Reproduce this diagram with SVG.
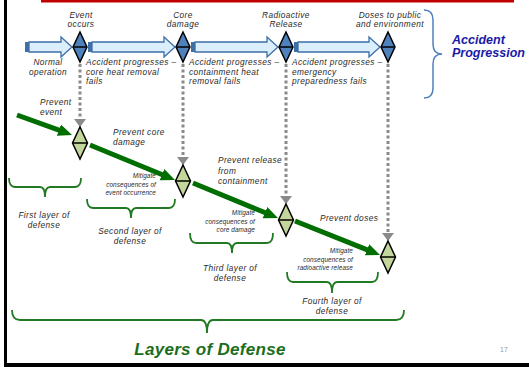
<svg xmlns="http://www.w3.org/2000/svg" width="529" height="367" viewBox="0 0 529 367">
<style>
.t{font-family:"Liberation Sans",Arial,sans-serif;font-style:italic;font-size:8.3px;fill:#2a2a2a;letter-spacing:0.4px}
.s{font-family:"Liberation Sans",Arial,sans-serif;font-style:italic;font-size:6.4px;fill:#2a2a2a;letter-spacing:0.1px}
.c{text-anchor:middle}
.r{text-anchor:end}
.barrow{fill:#dbeefb;stroke:#3d6fa8;stroke-width:1.3}
.bsq{fill:#3d6fa8}
.bd{fill:#4f81bd;stroke:#000;stroke-width:1.5}
.gd{fill:#c3d69b;stroke:#000;stroke-width:1.5}
.mid{stroke:#000;stroke-width:1.5}
.dot{stroke:#8a8a8a;stroke-width:3;stroke-dasharray:3 2.5;fill:none}
.gh{fill:#8a8a8a}
.ga{stroke:#006e00;stroke-width:5;fill:none;marker-end:url(#gm)}
.br{fill:none;stroke:#217a21;stroke-width:1.8}
</style>
<defs>
<marker id="gm" viewBox="0 0 14 12" refX="3" refY="6" markerWidth="14" markerHeight="12" markerUnits="userSpaceOnUse" orient="auto"><path d="M0,0 L14,6 L0,12 Z" fill="#006e00"/></marker>
</defs>
<rect x="0" y="0" width="529" height="367" fill="#fff"/>
<rect x="41" y="0" width="473" height="2.5" fill="#c00000"/>
<rect x="4" y="0" width="3" height="367" fill="#000"/>
<rect x="4" y="363" width="525" height="4" fill="#000"/>

<g id="connectors">
<g id="progress-arrows">
<rect class="bsq" x="25" y="42" width="4" height="10"/>
<path class="barrow" d="M29,42 H61 V37 L72,47 L61,57 V52 H29 Z"/>
<rect class="bsq" x="88" y="42" width="4" height="10"/>
<path class="barrow" d="M92,42 H164 V37 L175,47 L164,57 V52 H92 Z"/>
<rect class="bsq" x="191" y="42" width="4" height="10"/>
<path class="barrow" d="M195,42 H267 V37 L278,47 L267,57 V52 H195 Z"/>
<rect class="bsq" x="294" y="42" width="4" height="10"/>
<path class="barrow" d="M298,42 H369 V37 L380,47 L369,57 V52 H298 Z"/>
</g>
<g id="dotted">
<line class="dot" x1="80" y1="64" x2="80" y2="119"/>
<path class="gh" d="M74,119 H86 L80,127 Z"/>
<line class="dot" x1="183" y1="64" x2="183" y2="157"/>
<path class="gh" d="M177,157 H189 L183,165 Z"/>
<line class="dot" x1="286" y1="64" x2="286" y2="196"/>
<path class="gh" d="M280,196 H292 L286,204 Z"/>
<line class="dot" x1="388" y1="64" x2="388" y2="233"/>
<path class="gh" d="M382,233 H394 L388,241 Z"/>
</g>
<g id="defense-arrows">
<line class="ga" x1="17" y1="115" x2="61.7" y2="131.2"/>
<line class="ga" x1="90" y1="145" x2="164.8" y2="175.8"/>
<line class="ga" x1="193" y1="183" x2="267.8" y2="213.8"/>
<line class="ga" x1="295" y1="221" x2="369.8" y2="250.9"/>
</g>
</g>

<g id="event-occurs">
<path class="bd" d="M80,32 L87,47 L80,62 L73,47 Z"/><line class="mid" x1="73" y1="47" x2="87" y2="47"/>
<text class="t c" x="81" y="18">Event</text><text class="t c" x="81" y="26.5">occurs</text>
</g>
<g id="core-damage">
<path class="bd" d="M183,32 L190,47 L183,62 L176,47 Z"/><line class="mid" x1="176" y1="47" x2="190" y2="47"/>
<text class="t c" x="183" y="18">Core</text><text class="t c" x="183" y="26.5">damage</text>
</g>
<g id="radioactive-release">
<path class="bd" d="M286,32 L293,47 L286,62 L279,47 Z"/><line class="mid" x1="279" y1="47" x2="293" y2="47"/>
<text class="t c" x="286" y="18">Radioactive</text><text class="t c" x="286" y="26.5">Release</text>
</g>
<g id="doses">
<path class="bd" d="M388,32 L395,47 L388,62 L381,47 Z"/><line class="mid" x1="381" y1="47" x2="395" y2="47"/>
<text class="t c" x="390" y="18">Doses to public</text><text class="t c" x="390" y="26.5">and environment</text>
</g>

<g id="progress-labels">
<text class="t c" x="48" y="65">Normal</text><text class="t c" x="48" y="74.5">operation</text>
<text class="t" x="86" y="65">Accident progresses –</text><text class="t" x="86" y="74.5">core heat removal</text><text class="t" x="86" y="84">fails</text>
<text class="t" x="189" y="65">Accident progresses –</text><text class="t" x="189" y="74.5">containment heat</text><text class="t" x="189" y="84">removal fails</text>
<text class="t" x="292" y="65">Accident progresses –</text><text class="t" x="292" y="74.5">emergency</text><text class="t" x="292" y="84">preparedness fails</text>
</g>

<g id="accident-progression">
<path fill="none" stroke="#4f81bd" stroke-width="1.5" d="M424,10 Q433,10 433,20 V44 Q433,54 442,54 Q433,54 433,64 V88 Q433,98 424,98"/>
<text x="452" y="44" font-family="Liberation Sans,Arial,sans-serif" font-weight="bold" font-style="italic" font-size="12.5" fill="#1a1aa8">Accident</text>
<text x="452" y="57" font-family="Liberation Sans,Arial,sans-serif" font-weight="bold" font-style="italic" font-size="12.5" fill="#1a1aa8">Progression</text>
</g>

<g id="layer1">
<path class="gd" d="M80,127 L87.5,143 L80,159 L72.5,143 Z"/><line class="mid" x1="72.5" y1="143" x2="87.5" y2="143"/>
<text class="t" x="40" y="105">Prevent</text><text class="t" x="40" y="115">event</text>
<path class="br" d="M9,178 Q9,187 15,187 H40 Q45,187 45,197 Q45,187 50,187 H75 Q81,187 81,178"/>
<text class="t c" x="44" y="218">First layer of</text><text class="t c" x="44" y="227.5">defense</text>
</g>
<g id="layer2">
<path class="gd" d="M183,165 L190.5,181 L183,197 L175.5,181 Z"/><line class="mid" x1="175.5" y1="181" x2="190.5" y2="181"/>
<text class="t" x="113" y="135">Prevent core</text><text class="t" x="113" y="145">damage</text>
<text class="s r" x="156" y="178">Mitigate</text><text class="s r" x="156" y="186.5">consequences of</text><text class="s r" x="156" y="195">event occurrence</text>
<path class="br" d="M87,199 Q87,208 93,208 H126 Q131,208 131,218 Q131,208 136,208 H169 Q175,208 175,199"/>
<text class="t c" x="130" y="234">Second layer of</text><text class="t c" x="130" y="243.5">defense</text>
</g>
<g id="layer3">
<path class="gd" d="M286,204 L293.5,220 L286,236 L278.5,220 Z"/><line class="mid" x1="278.5" y1="220" x2="293.5" y2="220"/>
<text class="t" x="218" y="163">Prevent release</text><text class="t" x="218" y="173.5">from</text><text class="t" x="218" y="184">containment</text>
<text class="s r" x="255" y="215">Mitigate</text><text class="s r" x="255" y="223.5">consequences of</text><text class="s r" x="255" y="232">core damage</text>
<path class="br" d="M190,233 Q190,243 196,243 H227 Q232,243 232,253 Q232,243 237,243 H267 Q273,243 273,233"/>
<text class="t c" x="230" y="271">Third layer of</text><text class="t c" x="230" y="281">defense</text>
</g>
<g id="layer4">
<path class="gd" d="M388,241 L395.5,257 L388,273 L380.5,257 Z"/><line class="mid" x1="380.5" y1="257" x2="395.5" y2="257"/>
<text class="t" x="320" y="221">Prevent doses</text>
<text class="s r" x="353" y="253">Mitigate</text><text class="s r" x="353" y="261.5">consequences of</text><text class="s r" x="353" y="270">radioactive release</text>
<path class="br" d="M287,272 Q287,282 293,282 H327 Q332,282 332,293 Q332,282 337,282 H372 Q378,282 378,272"/>
<text class="t c" x="332" y="304">Fourth layer of</text><text class="t c" x="332" y="314">defense</text>
</g>
<g id="layers-of-defense">
<path class="br" d="M12,310 Q12,320 20,320 H201 Q207,320 207,333 Q207,320 213,320 H396 Q404,320 404,310"/>
<text x="210" y="355" text-anchor="middle" font-family="Liberation Sans,Arial,sans-serif" font-weight="bold" font-style="italic" font-size="17" fill="#1b6e1b" letter-spacing="0.3">Layers of Defense</text>
</g>
<text x="504" y="352" text-anchor="middle" font-family="Liberation Sans,Arial,sans-serif" font-size="7" fill="#999">17</text>
</svg>
